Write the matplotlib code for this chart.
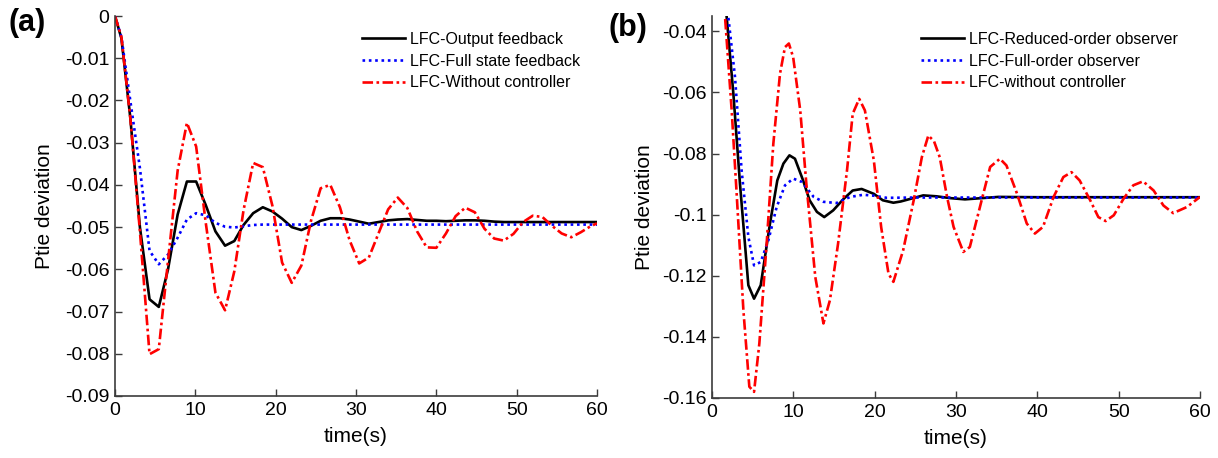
import numpy as np
import matplotlib
matplotlib.use("Agg")
import matplotlib.pyplot as plt

plt.rcParams['font.family'] = ['Liberation Sans', 'DejaVu Sans']
plt.rcParams['axes.unicode_minus'] = False

# panel (a): sampled time points and the three tie-line power responses
t_a = [0, 0.8, 1.9, 3.1, 4.3, 5.45, 6.6, 7.8, 8.95, 10.1, 11.3, 12.5, 13.7, 14.85,
       16.0, 17.2, 18.4, 19.6, 20.8, 22.0, 23.2, 24.4, 25.6, 26.8, 28.0, 29.2,
       30.4, 31.6, 32.8, 34.0, 35.2, 36.4, 37.6, 38.8, 40.0, 41.2, 42.4, 43.6,
       44.8, 46.0, 47.2, 48.4, 49.6, 50.8, 52.0, 53.2, 54.4, 55.6, 56.8, 58.0,
       59.2, 60.0]
output_fb = [0, -0.0053, -0.024, -0.050, -0.0671, -0.0689, -0.0600, -0.0470, -0.0392,
             -0.0392, -0.0448, -0.0510, -0.0544, -0.0533, -0.0495, -0.0467, -0.0453,
             -0.0463, -0.0480, -0.0500, -0.0507, -0.0497, -0.0485, -0.0479, -0.0479,
             -0.0482, -0.0487, -0.0492, -0.0488, -0.0484, -0.0482, -0.0481, -0.0483,
             -0.0485, -0.0485, -0.0486, -0.0485, -0.0484, -0.0484, -0.0485, -0.0487,
             -0.0488, -0.0488, -0.0488, -0.0488, -0.0488, -0.0488, -0.0488, -0.0488,
             -0.0488, -0.0488, -0.0488]
full_state_fb = [0, -0.005, -0.020, -0.036, -0.0556, -0.0588, -0.0565, -0.0525, -0.0482,
                 -0.0467, -0.0472, -0.0490, -0.0499, -0.0501, -0.0498, -0.0495, -0.0494,
                 -0.0494, -0.0494, -0.0494, -0.0494, -0.0494, -0.0494, -0.0494, -0.0494,
                 -0.0494, -0.0494, -0.0494, -0.0494, -0.0494, -0.0494, -0.0494, -0.0494,
                 -0.0494, -0.0494, -0.0494, -0.0494, -0.0494, -0.0494, -0.0494, -0.0494,
                 -0.0494, -0.0494, -0.0494, -0.0494, -0.0494, -0.0494, -0.0494, -0.0494,
                 -0.0494, -0.0494, -0.0494]
no_ctrl_a = [0, -0.005, -0.024, -0.051, -0.0801, -0.0789, -0.0580, -0.0366, -0.0253,
             -0.0309, -0.0490, -0.0655, -0.0697, -0.0605, -0.0460, -0.0348, -0.0358,
             -0.0450, -0.0584, -0.0632, -0.0591, -0.0485, -0.0408, -0.0400, -0.0453,
             -0.0531, -0.0586, -0.0572, -0.0515, -0.0458, -0.0430, -0.0455, -0.0510,
             -0.0548, -0.0549, -0.0515, -0.0474, -0.0454, -0.0465, -0.0504, -0.0527,
             -0.0532, -0.0516, -0.0488, -0.0473, -0.0476, -0.0497, -0.0515, -0.0524,
             -0.0512, -0.0498, -0.0491]
yticks_a = [-0.09, -0.08, -0.07, -0.06, -0.05, -0.04, -0.03, -0.02, -0.01, 0]

# panel (b): observer based controllers
t_red_obs = [0, 0.9, 1.8, 2.63, 3.44, 4.47, 5.17, 5.99, 7.13, 8.03, 8.78, 9.52, 10.2,
             11.2, 12.0, 12.9, 13.8, 14.9, 16.2, 17.3, 18.4, 19.9, 21.0, 22.3, 23.2,
             25.97, 27.6, 29.3, 31.1, 35.2, 40.0, 60.0]
reduced_obs = [0, -0.009, -0.0352, -0.0605, -0.0899, -0.1231, -0.1275, -0.1231, -0.1029,
               -0.0888, -0.0833, -0.0806, -0.0817, -0.0888, -0.0953, -0.0991, -0.1008,
               -0.0986, -0.0948, -0.0921, -0.0916, -0.0932, -0.0953, -0.0961, -0.0957,
               -0.0937, -0.0940, -0.0946, -0.0950, -0.0942, -0.0943, -0.0943]
t_full_obs = [0, 0.9, 2.0, 2.83, 3.64, 4.47, 5.17, 5.99, 6.93, 7.95, 8.98, 9.98, 11.05,
              12.5, 13.7, 15.3, 17.0, 18.6, 19.9, 21.5, 25.0, 60.0]
full_obs = [0, -0.007, -0.0352, -0.055, -0.0855, -0.1073, -0.1166, -0.1155, -0.1084,
            -0.0975, -0.0904, -0.0882, -0.0893, -0.0942, -0.0958, -0.0962, -0.0942,
            -0.0935, -0.0938, -0.0945, -0.0944, -0.0944]
t_no_ctrl_b = [0, 0.8, 1.6, 2.42, 3.03, 3.86, 4.59, 5.17, 5.82, 6.72, 7.54, 8.36, 8.97,
               9.45, 9.98, 10.85, 11.6, 12.7, 13.7, 14.5, 15.5, 16.6, 17.3, 18.1, 18.8,
               19.9, 20.8, 21.7, 22.3, 23.5, 24.8, 25.8, 26.6, 27.3, 28.0, 28.9, 29.7,
               30.9, 31.7, 33.2, 34.2, 35.4, 36.2, 37.5, 38.7, 39.7, 40.7, 42.0, 43.2,
               44.2, 45.2, 46.5, 47.5, 48.4, 49.4, 50.6, 51.8, 53.0, 54.3, 55.5, 56.7,
               58.4, 60.0]
no_ctrl_b = [0, -0.009, -0.0352, -0.0659, -0.0931, -0.1313, -0.1563, -0.158, -0.1422,
             -0.1095, -0.0768, -0.0539, -0.0452, -0.0440, -0.0485, -0.0659, -0.0899,
             -0.1204, -0.1356, -0.128, -0.1095, -0.0855, -0.067, -0.0621, -0.0659,
             -0.0823, -0.1041, -0.1193, -0.122, -0.1117, -0.0953, -0.0812, -0.0741,
             -0.0760, -0.0812, -0.0942, -0.104, -0.1122, -0.1106, -0.0948, -0.0844,
             -0.0817, -0.0839, -0.0931, -0.1029, -0.1062, -0.104, -0.0942, -0.0877,
             -0.0861, -0.0888, -0.0953, -0.1008, -0.1021, -0.1002, -0.0948, -0.0904,
             -0.0891, -0.0921, -0.0970, -0.0995, -0.0975, -0.0942]
yticks_b = [-0.16, -0.14, -0.12, -0.1, -0.08, -0.06, -0.04]

labels_a = ['LFC-Output feedback', 'LFC-Full state feedback', 'LFC-Without controller']
labels_b = ['LFC-Reduced-order observer', 'LFC-Full-order observer', 'LFC-without controller']

W, H = 1218, 458
fig = plt.figure(figsize=(W / 100, H / 100), dpi=100)
ax1 = fig.add_axes([115 / W, 62 / H, 482 / W, 380 / H])
ax2 = fig.add_axes([712 / W, 60 / H, 488 / W, 382 / H])

lw = 1.9
dotted = (1, 1.4)
dashdot = (4, 1.3, 1, 1.3)


def style_axis(ax, ylab_x):
    for s in ['top', 'right']:
        ax.spines[s].set_visible(False)
    for s in ['left', 'bottom']:
        ax.spines[s].set_color('#3c3c3c')
        ax.spines[s].set_linewidth(1.2)
    ax.tick_params(direction='in', length=5, width=1, color='#3c3c3c', labelsize=14)
    ax.tick_params(axis='y', pad=4)
    ax.tick_params(axis='x', pad=4)
    ax.set_xlim(0, 60)
    ax.set_xticks([0, 10, 20, 30, 40, 50, 60])
    ax.yaxis.set_major_formatter(plt.FormatStrFormatter('%g'))
    ax.set_xlabel('time(s)', fontsize=15, labelpad=6)
    ax.set_ylabel('Ptie deviation', fontsize=15)
    ax.yaxis.set_label_coords(ylab_x, 0.5)


# (a)
ax1.plot(t_a, output_fb, color='black', lw=lw, label=labels_a[0])
ax1.plot(t_a, full_state_fb, color='blue', lw=lw, linestyle=(0, dotted), label=labels_a[1])
ax1.plot(t_a, no_ctrl_a, color='red', lw=lw, linestyle=(0, dashdot), label=labels_a[2])
style_axis(ax1, (54 - 115) / 482)
ax1.set_ylim(-0.09, 0)
ax1.set_yticks(yticks_a)
ax1.legend(loc='upper left', bbox_to_anchor=(362 / W, 1 - 32 / H), bbox_transform=fig.transFigure,
           frameon=False, fontsize=11.5, handlelength=2.7, handletextpad=0.3,
           labelspacing=0.42, borderpad=0, borderaxespad=0)

# (b)
ax2.plot(t_red_obs, reduced_obs, color='black', lw=lw, label=labels_b[0])
ax2.plot(t_full_obs, full_obs, color='blue', lw=lw, linestyle=(0, dotted), label=labels_b[1])
ax2.plot(t_no_ctrl_b, no_ctrl_b, color='red', lw=lw, linestyle=(0, dashdot), label=labels_b[2])
style_axis(ax2, (654 - 712) / 488)
ax2.set_ylim(-0.16, -0.035)
ax2.set_yticks(yticks_b)
ax2.legend(loc='upper left', bbox_to_anchor=(921 / W, 1 - 32 / H), bbox_transform=fig.transFigure,
           frameon=False, fontsize=11.5, handlelength=2.7, handletextpad=0.3,
           labelspacing=0.42, borderpad=0, borderaxespad=0)

fig.text(8 / W, 1 - 23 / H, '(a)', fontsize=22, fontweight='bold', ha='left', va='center')
fig.text(609 / W, 1 - 28 / H, '(b)', fontsize=22, fontweight='bold', ha='left', va='center')

fig.savefig('out.png', dpi=100)
